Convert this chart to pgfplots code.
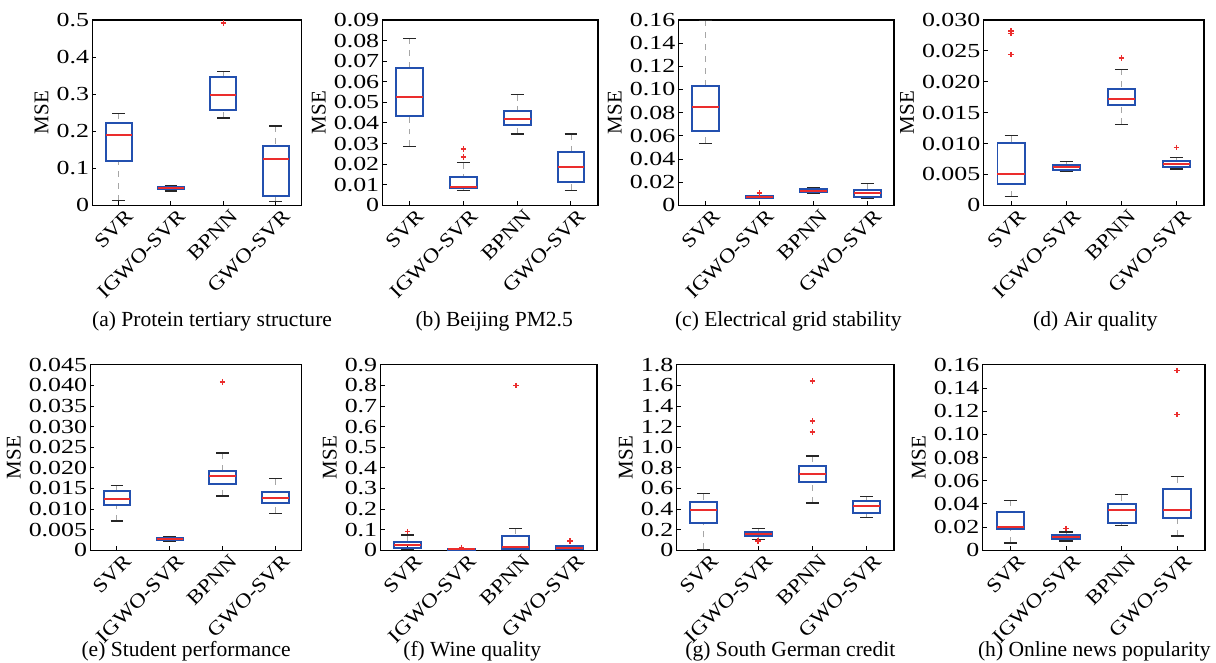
\documentclass[border=0pt]{standalone}
\usepackage{pgfplots}
\pgfplotsset{compat=1.18}
\usepgfplotslibrary{statistics}
\usepackage{fontspec}
\setmainfont{Liberation Serif}
\newfontfamily\tickfont{Liberation Serif}[FakeStretch=1.3]
\newfontfamily\labfont{Liberation Serif}[FakeStretch=1.15]

\definecolor{boxblue}{RGB}{35,80,175}
\definecolor{medred}{RGB}{235,45,45}

\pgfplotsset{
  mse/.style={
    scale only axis, height=93pt, anchor=north west,
    xmin=0.5, xmax=4.5, ymin=0,
    scaled y ticks=false,
    xtick={1,2,3,4}, xticklabels={SVR,IGWO-SVR,BPNN,GWO-SVR},
    xtick pos=bottom, ytick pos=left, tick align=inside,
    major tick length=2pt,
    axis line style={line width=0.6pt},
    tick style={line width=0.5pt, black},
    xticklabel style={xshift=3pt, yshift=0pt, rotate=45, anchor=north east, inner sep=1pt, font=\labfont\fontsize{10}{11}\selectfont},
    yticklabel style={font=\tickfont\fontsize{10}{11}\selectfont, inner sep=1.5pt},
    ylabel={MSE}, ylabel style={font=\fontsize{10.5}{12}\selectfont, yshift=-1pt},
  },
  /pgfplots/boxplot/draw direction=y,
  /pgfplots/boxplot/box extend=0.5,
  /pgfplots/boxplot/whisker extend=0.24,
  /pgfplots/boxplot/every box/.style={draw=boxblue, line width=1pt},
  /pgfplots/boxplot/every median/.style={draw=medred, line width=1pt},
  /pgfplots/boxplot/draw/lower whisker/.code={%
    \draw[dashed, gray!70, line width=0.45pt]
      (boxplot cs:\pgfplotsboxplotvalue{lower whisker}) --
      (boxplot cs:\pgfplotsboxplotvalue{lower quartile});
    \draw[black!85, line width=0.7pt]
      (boxplot whisker cs:\pgfplotsboxplotvalue{lower whisker},0) --
      (boxplot whisker cs:\pgfplotsboxplotvalue{lower whisker},1);
  },
  /pgfplots/boxplot/draw/upper whisker/.code={%
    \draw[dashed, gray!70, line width=0.45pt]
      (boxplot cs:\pgfplotsboxplotvalue{upper whisker}) --
      (boxplot cs:\pgfplotsboxplotvalue{upper quartile});
    \draw[black!85, line width=0.7pt]
      (boxplot whisker cs:\pgfplotsboxplotvalue{upper whisker},0) --
      (boxplot whisker cs:\pgfplotsboxplotvalue{upper whisker},1);
  },
  bp/.style={mark=+, mark size=1.4pt, mark options={draw=medred, solid, line width=0.8pt}},
}
\newcommand{\capt}[3]{\node[font=\fontsize{10.8}{12}\selectfont, anchor=base, inner sep=0pt] at (#1pt,#2pt) {#3};}

\begin{document}
\begin{tikzpicture}
\path (0,0) rectangle (608pt,-332.5pt);

% (a)
\begin{axis}[mse, at={(44.5pt,-10pt)}, width=105pt, ymax=0.5,
  ytick={0,0.1,0.2,0.3,0.4,0.5}, yticklabels={0,0.1,0.2,0.3,0.4,0.5}]
\addplot[bp, boxplot prepared={draw position=1, lower whisker=0.013, lower quartile=0.121, median=0.190, upper quartile=0.222, upper whisker=0.248}] coordinates {};
\addplot[bp, boxplot prepared={draw position=2, lower whisker=0.039, lower quartile=0.044, median=0.047, upper quartile=0.050, upper whisker=0.052}] coordinates {};
\addplot[bp, boxplot prepared={draw position=3, lower whisker=0.236, lower quartile=0.258, median=0.298, upper quartile=0.346, upper whisker=0.361}] coordinates {(0,0.491)};
\addplot[bp, boxplot prepared={draw position=4, lower whisker=0.010, lower quartile=0.026, median=0.124, upper quartile=0.159, upper whisker=0.214}] coordinates {};
\end{axis}

% (b)
\begin{axis}[mse, at={(190pt,-10pt)}, width=108pt, ymax=0.09,
  ytick={0,0.01,0.02,0.03,0.04,0.05,0.06,0.07,0.08,0.09},
  yticklabels={0,0.01,0.02,0.03,0.04,0.05,0.06,0.07,0.08,0.09}]
\addplot[bp, boxplot prepared={draw position=1, lower whisker=0.0286, lower quartile=0.0433, median=0.0527, upper quartile=0.0669, upper whisker=0.0810}] coordinates {};
\addplot[bp, boxplot prepared={draw position=2, lower whisker=0.0073, lower quartile=0.0082, median=0.0090, upper quartile=0.0139, upper whisker=0.0208}] coordinates {(0,0.0236) (0,0.0275)};
\addplot[bp, boxplot prepared={draw position=3, lower whisker=0.0347, lower quartile=0.0389, median=0.0418, upper quartile=0.0456, upper whisker=0.0538}] coordinates {};
\addplot[bp, boxplot prepared={draw position=4, lower whisker=0.0073, lower quartile=0.0113, median=0.0187, upper quartile=0.0260, upper whisker=0.0347}] coordinates {};
\end{axis}

% (c)
\begin{axis}[mse, at={(338.5pt,-10pt)}, width=108pt, ymax=0.16,
  ytick={0,0.02,0.04,0.06,0.08,0.10,0.12,0.14,0.16},
  yticklabels={0,0.02,0.04,0.06,0.08,0.10,0.12,0.14,0.16}]
\addplot[bp, boxplot prepared={draw position=1, lower whisker=0.0536, lower quartile=0.0640, median=0.0850, upper quartile=0.1026, upper whisker=0.1597}] coordinates {};
\addplot[bp, boxplot prepared={draw position=2, lower whisker=0.0062, lower quartile=0.0066, median=0.0072, upper quartile=0.0080, upper whisker=0.0086}] coordinates {(0,0.0105)};
\addplot[bp, boxplot prepared={draw position=3, lower whisker=0.0107, lower quartile=0.0112, median=0.0127, upper quartile=0.0138, upper whisker=0.0150}] coordinates {};
\addplot[bp, boxplot prepared={draw position=4, lower whisker=0.0063, lower quartile=0.0075, median=0.0104, upper quartile=0.0135, upper whisker=0.0187}] coordinates {};
\end{axis}

% (d)
\begin{axis}[mse, at={(491.5pt,-10pt)}, width=110.5pt, ymax=0.030,
  ytick={0,0.005,0.010,0.015,0.020,0.025,0.030},
  yticklabels={0,0.005,0.010,0.015,0.020,0.025,0.030}]
\addplot[bp, boxplot prepared={draw position=1, lower whisker=0.0014, lower quartile=0.00345, median=0.00506, upper quartile=0.01007, upper whisker=0.01126}] coordinates {(0,0.0244) (0,0.0278) (0,0.0282)};
\addplot[bp, boxplot prepared={draw position=2, lower whisker=0.00544, lower quartile=0.00566, median=0.00625, upper quartile=0.00646, upper whisker=0.0071}] coordinates {};
\addplot[bp, boxplot prepared={draw position=3, lower whisker=0.01309, lower quartile=0.01621, median=0.01729, upper quartile=0.01885, upper whisker=0.0220}] coordinates {(0,0.0238)};
\addplot[bp, boxplot prepared={draw position=4, lower whisker=0.00587, lower quartile=0.00614, median=0.00662, upper quartile=0.0071, upper whisker=0.00776}] coordinates {(0,0.00937)};
\end{axis}

% (e)
\begin{axis}[mse, at={(43.5pt,-183pt)}, width=106pt, ymax=0.045,
  ytick={0,0.005,0.010,0.015,0.020,0.025,0.030,0.035,0.040,0.045},
  yticklabels={0,0.005,0.010,0.015,0.020,0.025,0.030,0.035,0.040,0.045}]
\addplot[bp, boxplot prepared={draw position=1, lower whisker=0.00712, lower quartile=0.01109, median=0.01254, upper quartile=0.01432, upper whisker=0.0157}] coordinates {};
\addplot[bp, boxplot prepared={draw position=2, lower whisker=0.0022, lower quartile=0.0025, median=0.00275, upper quartile=0.0030, upper whisker=0.0033}] coordinates {};
\addplot[bp, boxplot prepared={draw position=3, lower whisker=0.0132, lower quartile=0.0161, median=0.01813, upper quartile=0.01926, upper whisker=0.0236}] coordinates {(0,0.0409)};
\addplot[bp, boxplot prepared={draw position=4, lower whisker=0.00898, lower quartile=0.01141, median=0.01263, upper quartile=0.01408, upper whisker=0.0174}] coordinates {};
\end{axis}

% (f)
\begin{axis}[mse, at={(189pt,-183pt)}, width=108.5pt, ymax=0.9,
  ytick={0,0.1,0.2,0.3,0.4,0.5,0.6,0.7,0.8,0.9},
  yticklabels={0,0.1,0.2,0.3,0.4,0.5,0.6,0.7,0.8,0.9}]
\addplot[bp, boxplot prepared={draw position=1, lower whisker=0.003, lower quartile=0.010, median=0.025, upper quartile=0.040, upper whisker=0.074}] coordinates {(0,0.091)};
\addplot[bp, boxplot prepared={draw position=2, lower whisker=0.001, lower quartile=0.003, median=0.005, upper quartile=0.007, upper whisker=0.010}] coordinates {(0,0.014)};
\addplot[bp, boxplot prepared={draw position=3, lower whisker=0.003, lower quartile=0.008, median=0.016, upper quartile=0.070, upper whisker=0.107}] coordinates {(0,0.799)};
\addplot[bp, boxplot prepared={draw position=4, lower whisker=0.003, lower quartile=0.0065, median=0.013, upper quartile=0.021, upper whisker=0.0227}] coordinates {(0,0.0453)};
\end{axis}

% (g)
\begin{axis}[mse, at={(337.5pt,-183pt)}, width=109pt, ymax=1.8,
  ytick={0,0.2,0.4,0.6,0.8,1.0,1.2,1.4,1.6,1.8},
  yticklabels={0,0.2,0.4,0.6,0.8,1.0,1.2,1.4,1.6,1.8}]
\addplot[bp, boxplot prepared={draw position=1, lower whisker=0.010, lower quartile=0.269, median=0.388, upper quartile=0.473, upper whisker=0.550}] coordinates {};
\addplot[bp, boxplot prepared={draw position=2, lower whisker=0.107, lower quartile=0.136, median=0.155, upper quartile=0.178, upper whisker=0.210}] coordinates {(0,0.090)};
\addplot[bp, boxplot prepared={draw position=3, lower whisker=0.460, lower quartile=0.667, median=0.738, upper quartile=0.822, upper whisker=0.916}] coordinates {(0,1.146) (0,1.253) (0,1.641)};
\addplot[bp, boxplot prepared={draw position=4, lower whisker=0.320, lower quartile=0.359, median=0.431, upper quartile=0.479, upper whisker=0.524}] coordinates {};
\end{axis}

% (h)
\begin{axis}[mse, at={(491pt,-183pt)}, width=111.5pt, ymax=0.16,
  ytick={0,0.02,0.04,0.06,0.08,0.10,0.12,0.14,0.16},
  yticklabels={0,0.02,0.04,0.06,0.08,0.10,0.12,0.14,0.16}]
\addplot[bp, boxplot prepared={draw position=1, lower whisker=0.0063, lower quartile=0.0187, median=0.0201, upper quartile=0.0334, upper whisker=0.0432}] coordinates {};
\addplot[bp, boxplot prepared={draw position=2, lower whisker=0.0081, lower quartile=0.0101, median=0.0118, upper quartile=0.0132, upper whisker=0.0158}] coordinates {(0,0.0187)};
\addplot[bp, boxplot prepared={draw position=3, lower whisker=0.0213, lower quartile=0.0236, median=0.0345, upper quartile=0.0400, upper whisker=0.0481}] coordinates {};
\addplot[bp, boxplot prepared={draw position=4, lower whisker=0.0124, lower quartile=0.0276, median=0.0348, upper quartile=0.0529, upper whisker=0.0636}] coordinates {(0,0.1171) (0,0.1551)};
\end{axis}

\capt{104.5}{-163.5}{(a) Protein tertiary structure}
\capt{246}{-163.5}{(b) Beijing PM2.5}
\capt{393.5}{-163.5}{(c) Electrical grid stability}
\capt{547.5}{-163.5}{(d) Air quality}
\capt{91.5}{-329.5}{(e) Student performance}
\capt{235}{-329.5}{(f) Wine quality}
\capt{394.5}{-329.5}{(g) South German credit}
\capt{547}{-329.5}{(h) Online news popularity}
\end{tikzpicture}
\end{document}
